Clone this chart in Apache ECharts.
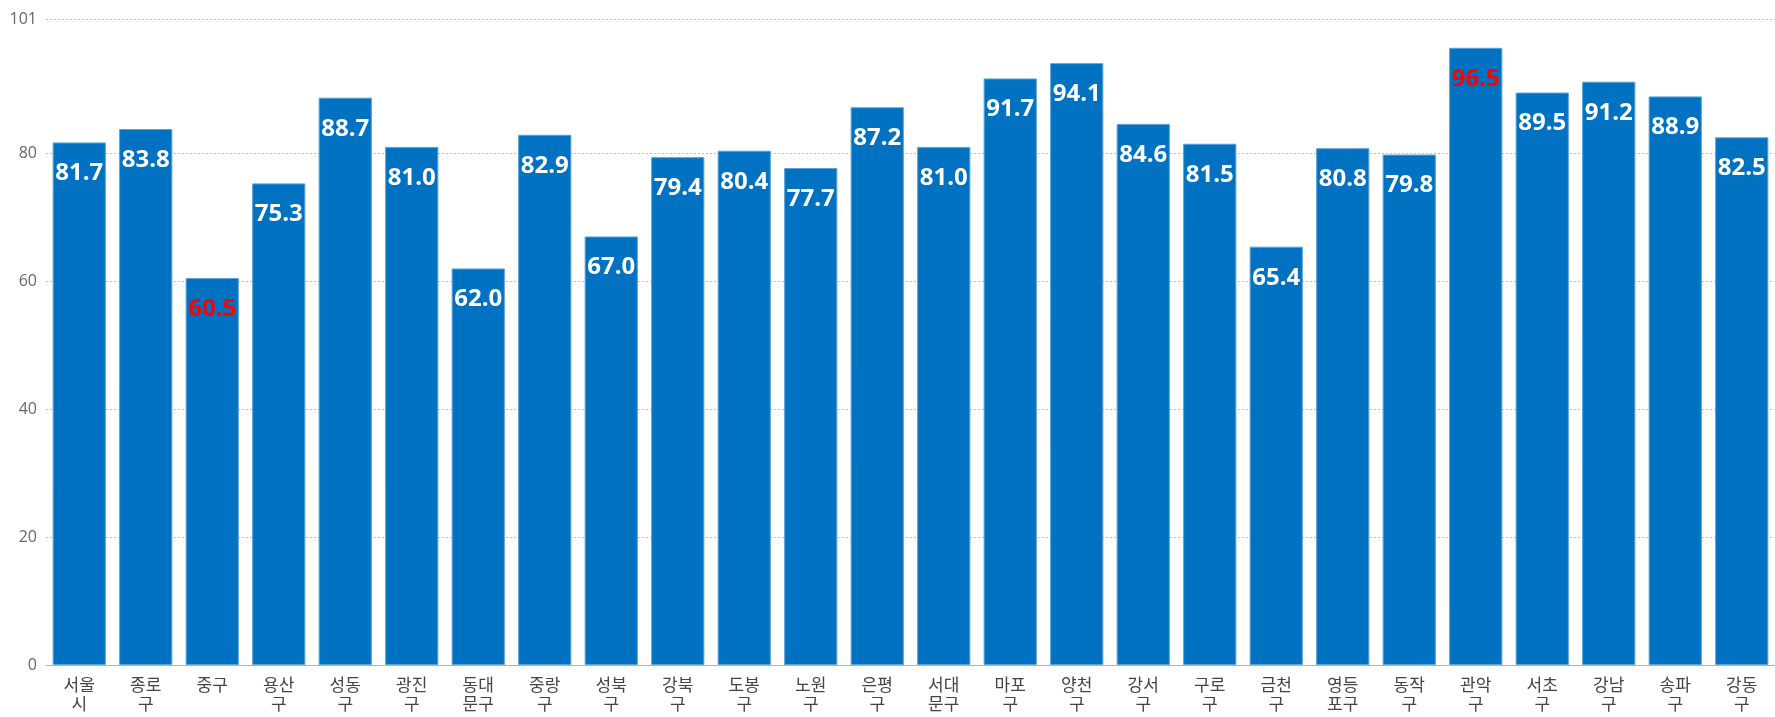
<!DOCTYPE html>
<html>
<head>
<meta charset="utf-8">
<script src="https://cdn.jsdelivr.net/npm/echarts@6/dist/echarts.min.js"></script>
<style>
  html, body { margin: 0; padding: 0; background: #fff; }
  #chart { width: 1775px; height: 717px; }
</style>
</head>
<body>
<div id="chart"></div>
<script>
var districts = [
  "서울시", "종로구", "중구", "용산구", "성동구", "광진구", "동대문구", "중랑구", "성북구",
  "강북구", "도봉구", "노원구", "은평구", "서대문구", "마포구", "양천구", "강서구", "구로구",
  "금천구", "영등포구", "동작구", "관악구", "서초구", "강남구", "송파구", "강동구"
];
var scores = [
  81.7, 83.8, 60.5, 75.3, 88.7, 81.0, 62.0, 82.9, 67.0,
  79.4, 80.4, 77.7, 87.2, 81.0, 91.7, 94.1, 84.6, 81.5,
  65.4, 80.8, 79.8, 96.5, 89.5, 91.2, 88.9, 82.5
];
var yTicks = [0, 20, 40, 60, 80, 101];

var minScore = Math.min.apply(null, scores);
var maxScore = Math.max.apply(null, scores);

var myChart = echarts.init(document.getElementById("chart"));
var option = {
  animation: false,
  grid: {
    top: 19,
    bottom: 52,
    left: 46,
    right: -4,
    containLabel: false
  },
  xAxis: {
    type: "category",
    data: districts,
    axisLine: { lineStyle: { color: "#b3b3b3", width: 1 } },
    axisTick: { show: false },
    axisLabel: {
      color: "#444444",
      fontSize: 17,
      lineHeight: 19,
      margin: 10,
      interval: 0,
      fontFamily: "Noto Sans CJK KR",
      formatter: function (name) {
        // 두 글자씩 줄바꿈
        var out = [];
        for (var i = 0; i < name.length; i += 2) {
          out.push(name.substring(i, i + 2));
        }
        return out.join("\n");
      }
    }
  },
  yAxis: {
    type: "value",
    min: 0,
    max: 101,
    axisLine: { show: false },
    axisTick: { show: false, customValues: yTicks },
    axisLabel: {
      customValues: yTicks,
      color: "#666666",
      fontSize: 16,
      margin: 9,
      fontFamily: "Open Sans"
    },
    splitLine: {
      show: true,
      lineStyle: { type: [2, 2], color: "#bdbdbd", width: 1 }
    }
  },
  series: [
    {
      type: "bar",
      data: scores,
      barCategoryGap: "20%",
      itemStyle: {
        color: "#0072C1",
        borderColor: "#5aa2d8",
        borderWidth: 1
      },
      label: {
        show: true,
        position: "insideTop",
        distance: 19,
        fontFamily: "Open Sans",
        fontWeight: 700,
        fontSize: 24,
        color: "#ffffff",
        formatter: function (p) {
          var txt = p.value.toFixed(1);
          if (p.value === minScore || p.value === maxScore) {
            return "{red|" + txt + "}";
          }
          return txt;
        },
        rich: {
          red: {
            color: "#ff0000",
            fontFamily: "Open Sans",
            fontWeight: 700,
            fontSize: 24
          }
        }
      }
    }
  ]
};
myChart.setOption(option);
</script>
</body>
</html>
